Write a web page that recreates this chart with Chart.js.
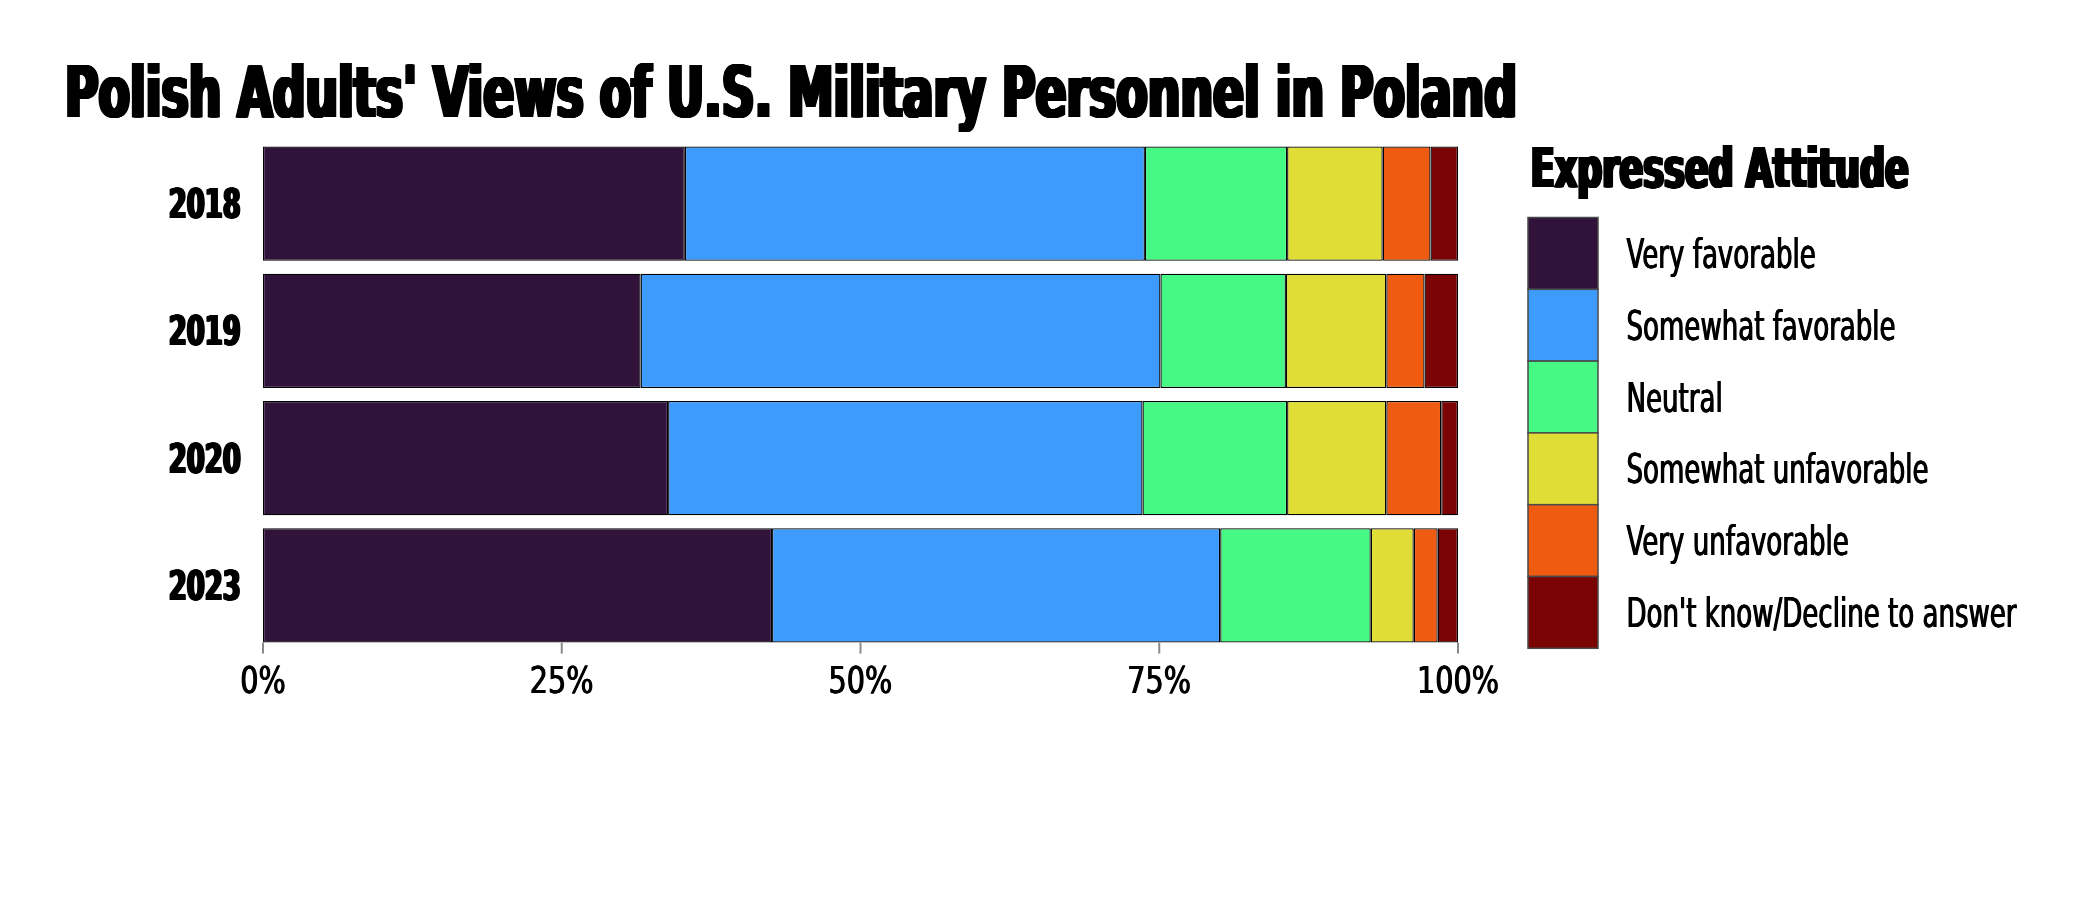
<!DOCTYPE html>
<html>
<head>
<meta charset="utf-8">
<script src="https://cdn.jsdelivr.net/npm/chart.js@4.4.1/dist/chart.umd.min.js"></script>
<style>
  html, body { margin: 0; padding: 0; background: #ffffff; }
  #wrap { width: 2100px; height: 900px; }
</style>
</head>
<body>
<div id="wrap"><canvas id="c" width="2100" height="900"></canvas></div>
<script>
// ---- data ----
const chartTitle = "Polish Adults' Views of U.S. Military Personnel in Poland";
const legendTitle = "Expressed Attitude";
const years = ['2018', '2019', '2020', '2023'];
const seriesNames = ['Very favorable', 'Somewhat favorable', 'Neutral', 'Somewhat unfavorable', 'Very unfavorable', "Don't know/Decline to answer"];
const seriesColors = ['#30123B', '#3E9BFE', '#46F884', '#E1DD37', '#F05B12', '#7A0403'];
const veryFavorable       = [35.3, 31.6, 33.9, 42.6];
const somewhatFavorable   = [38.5, 43.5, 39.7, 37.5];
const neutral             = [11.9, 10.5, 12.1, 12.6];
const somewhatUnfavorable = [8.0, 8.4, 8.3, 3.6];
const veryUnfavorable     = [4.0, 3.2, 4.6, 2.0];
const dontKnow            = [2.3, 2.8, 1.4, 1.7];
const xTickValues = [0, 25, 50, 75, 100];
const xTickLabels = ['0%', '25%', '50%', '75%', '100%'];

const seriesValues = [veryFavorable, somewhatFavorable, neutral, somewhatUnfavorable, veryUnfavorable, dontKnow];

// ---- condensed text helper (horizontal scale to mimic a condensed face) ----
const FAM = '"DejaVu Sans", "Liberation Sans", sans-serif';
const CAP = 0.729;
function scaleFor(ctx, font, text, target) {
  ctx.save(); ctx.font = font;
  const w = ctx.measureText(text).width;
  ctx.restore();
  return target / w;
}
function drawText(ctx, text, x, y, font, sx, align, thicken) {
  ctx.save();
  ctx.font = font;
  ctx.textAlign = 'left';
  ctx.textBaseline = 'alphabetic';
  const w = ctx.measureText(text).width * sx + (thicken || 0);
  let left = x;
  if (align === 'right') left = x - w;
  else if (align === 'center') left = x - w / 2;
  ctx.fillStyle = '#000000';
  const steps = thicken ? Math.max(1, Math.ceil(thicken / 0.5)) : 0;
  for (let k = 0; k <= steps; k++) {
    const dx = steps ? (thicken * k / steps) : 0;
    ctx.save();
    ctx.translate(left + dx, y);
    ctx.scale(sx, 1);
    ctx.fillText(text, 0, 0);
    ctx.restore();
  }
  ctx.restore();
}

const textPlugin = {
  id: 'textPlugin',
  afterDraw(chart) {
    const ctx = chart.ctx;
    const xs = chart.scales.x;
    const ys = chart.scales.y;

    // title
    const tFont = 'bold 71px ' + FAM;
    const tSx = scaleFor(ctx, tFont, chartTitle, 1452);
    drawText(ctx, chartTitle, 63, 117, tFont, tSx, 'left', 4);

    // y category labels
    const yFont = 'bold 40px ' + FAM;
    const ySx = scaleFor(ctx, yFont, '2018', 72);
    years.forEach((lab, i) => {
      const py = ys.getPixelForValue(i);
      drawText(ctx, lab, 242, py + 40 * CAP / 2, yFont, ySx, 'right', 2.5);
    });

    // x tick marks (from the bottom edge of the lowest bar) and labels
    const lastBar = chart.getDatasetMeta(0).data[years.length - 1];
    const barBottom = lastBar.y + lastBar.height / 2;
    ctx.save();
    ctx.strokeStyle = '#8a8a8a';
    ctx.lineWidth = 2;
    xTickValues.forEach((v) => {
      const px = xs.getPixelForValue(v);
      ctx.beginPath();
      ctx.moveTo(px, barBottom);
      ctx.lineTo(px, barBottom + 11);
      ctx.stroke();
    });
    ctx.restore();

    const xFont = '38px ' + FAM;
    const xSx = scaleFor(ctx, xFont, '100%', 82);
    xTickValues.forEach((v, i) => {
      const px = xs.getPixelForValue(v);
      drawText(ctx, xTickLabels[i], px, 693, xFont, xSx, 'center', 1);
    });

    // legend
    const ltFont = 'bold 55px ' + FAM;
    const ltSx = scaleFor(ctx, ltFont, legendTitle, 378);
    drawText(ctx, legendTitle, 1529, 187, ltFont, ltSx, 'left', 3.5);

    const lFont = '40px ' + FAM;
    const lSx = scaleFor(ctx, lFont, seriesNames[5], 390);
    const bx = 1528, by = 217.5, bw = 70, step = 71.8;
    chart.data.datasets.forEach((ds, i) => {
      const top = by + i * step;
      ctx.save();
      ctx.fillStyle = ds.backgroundColor;
      ctx.fillRect(bx, top, bw, step);
      ctx.strokeStyle = '#4a4a4a';
      ctx.lineWidth = 1.5;
      ctx.strokeRect(bx, top, bw, step);
      ctx.restore();
      drawText(ctx, ds.label, 1626, top + step / 2 + 40 * CAP / 2, lFont, lSx, 'left', 1);
    });
  }
};

const datasets = seriesNames.map((name, i) => ({
  label: name,
  data: seriesValues[i],
  backgroundColor: seriesColors[i],
  borderColor: '#000000',
  borderWidth: 1.3,
  borderSkipped: false,
  barPercentage: 0.899,
  categoryPercentage: 1.0
}));

new Chart(document.getElementById('c'), {
  type: 'bar',
  data: { labels: years, datasets: datasets },
  options: {
    indexAxis: 'y',
    responsive: false,
    animation: false,
    layout: { padding: { left: 263, right: 642, top: 140, bottom: 251 } },
    plugins: {
      legend: { display: false },
      title: { display: false },
      tooltip: { enabled: false }
    },
    scales: {
      x: {
        stacked: true,
        min: 0,
        max: 100,
        ticks: { display: false, stepSize: 25 },
        grid: { display: false },
        border: { display: false },
        afterFit: (s) => { s.height = 0; }
      },
      y: {
        stacked: true,
        display: false
      }
    }
  },
  plugins: [textPlugin]
});
</script>
</body>
</html>
